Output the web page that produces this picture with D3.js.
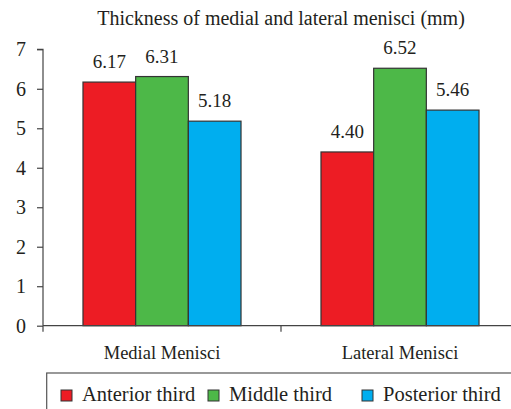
<!DOCTYPE html>
<html>
<head>
<meta charset="utf-8">
<script src="https://cdn.jsdelivr.net/npm/d3@7"></script>
<style>
  html, body { margin: 0; padding: 0; background: #fff; }
  svg { display: block; }
  svg text { font-family: "Liberation Serif", "Times New Roman", serif !important; fill: #231f20; }
</style>
</head>
<body>
<svg id="chart" width="511" height="409"></svg>
<script>
const title = "Thickness of medial and lateral menisci (mm)";
const categories = ["Medial Menisci", "Lateral Menisci"];
const seriesNames = ["Anterior third", "Middle third", "Posterior third"];
const anterior = [6.17, 4.40];
const middle = [6.31, 6.52];
const posterior = [5.18, 5.46];
const yTicks = [0, 1, 2, 3, 4, 5, 6, 7];
const colors = ["#ed1c24", "#4db848", "#00aeef"];

const seriesValues = [anterior, middle, posterior];
const data = categories.map((c, i) => ({
  category: c,
  values: seriesNames.map((s, j) => ({ series: s, value: seriesValues[j][i], idx: j }))
}));

const FONT = "Liberation Serif";
const svg = d3.select("#chart");
const pLeft = 43, pRight = 519, pTop = 49.3, pBottom = 325.7;

const y = d3.scaleLinear().domain([0, 7]).range([pBottom, pTop]);
const x0 = d3.scaleBand().domain(categories).range([pLeft, pRight]).paddingInner(0.336).paddingOuter(0.168);
const x1 = d3.scaleBand().domain(seriesNames).range([0, x0.bandwidth()]);

// Title
svg.append("text")
  .attr("x", 281).attr("y", 25)
  .attr("text-anchor", "middle")
  .attr("font-family", FONT)
  .style("font-size", "20px")
  .text(title);

// Bars
const groups = svg.append("g").selectAll("g").data(data).join("g")
  .attr("transform", d => `translate(${x0(d.category)},0)`);

groups.selectAll("rect").data(d => d.values).join("rect")
  .attr("x", d => x1(d.series))
  .attr("y", d => y(d.value))
  .attr("width", x1.bandwidth())
  .attr("height", d => y(0) - y(d.value))
  .attr("fill", d => colors[d.idx])
  .attr("stroke", "#333")
  .attr("stroke-width", 1.2);

groups.selectAll("text.val").data(d => d.values).join("text")
  .attr("class", "val")
  .attr("x", d => x1(d.series) + x1.bandwidth() / 2)
  .attr("y", d => y(d.value) - 14)
  .attr("text-anchor", "middle")
  .attr("font-family", FONT)
  .style("font-size", "19px")
  .text(d => d.value.toFixed(2));

// Y axis
const yAxis = d3.axisLeft(y).tickValues(yTicks).tickSize(6).tickPadding(11).tickFormat(d3.format("d"));
const gy = svg.append("g").attr("transform", `translate(${pLeft},0)`).call(yAxis);
gy.attr("font-family", FONT).attr("font-size", null);
gy.select(".domain").attr("stroke", "#444").attr("stroke-width", 1.2).attr("d", `M-6,${pTop}H0V${pBottom}`);
gy.selectAll(".tick line").attr("stroke", "#444").attr("stroke-width", 1.2);
gy.selectAll(".tick text").attr("font-family", FONT).style("font-size", "20px").attr("fill", "#231f20");

// X axis
const xAxis = d3.axisBottom(x0).tickSize(0).tickPadding(0);
const gx = svg.append("g").attr("transform", `translate(0,${pBottom})`).call(xAxis);
gx.attr("font-family", FONT).attr("font-size", null);
gx.select(".domain").attr("stroke", "#444").attr("stroke-width", 1.2).attr("d", `M${pLeft},0H${pRight}`);
gx.selectAll(".tick text").attr("y", 33.3).attr("dy", 0).attr("font-family", FONT).style("font-size", "18.5px").attr("fill", "#231f20");
// boundary ticks between categories
const bounds = d3.range(categories.length + 1).map(i => pLeft + i * x0.step());
gx.selectAll("line.bound").data(bounds).join("line")
  .attr("class", "bound")
  .attr("x1", d => d).attr("x2", d => d)
  .attr("y1", 0).attr("y2", 6)
  .attr("stroke", "#444").attr("stroke-width", 1.2);

// Legend
const lg = svg.append("g");
lg.append("rect")
  .attr("x", 46.7).attr("y", 373).attr("width", 480).attr("height", 60)
  .attr("fill", "none").attr("stroke", "#555").attr("stroke-width", 1.2);
const legendX = [61, 208, 362];
const items = lg.selectAll("g.item").data(seriesNames).join("g")
  .attr("class", "item")
  .attr("transform", (d, i) => `translate(${legendX[i]},390)`);
items.append("rect")
  .attr("width", 11).attr("height", 11)
  .attr("fill", (d, i) => colors[i])
  .attr("stroke", "#333").attr("stroke-width", 1);
items.append("text")
  .attr("x", 21).attr("y", 10.5)
  .attr("font-family", FONT)
  .style("font-size", "20.5px")
  .text(d => d);
</script>
</body>
</html>
